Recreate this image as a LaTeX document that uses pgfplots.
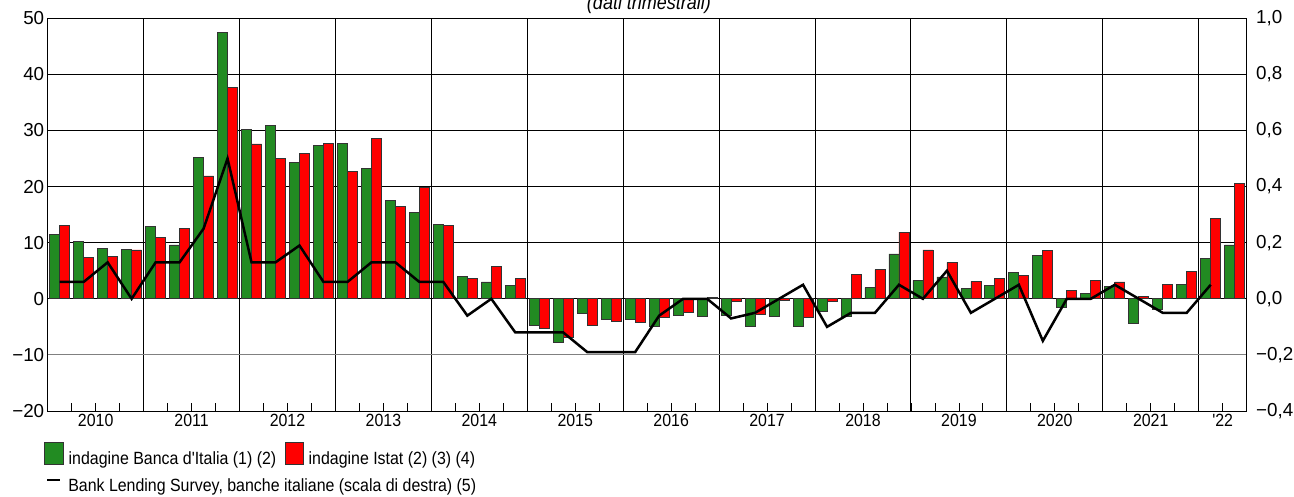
\documentclass[border=0pt]{standalone}
\usepackage{pgfplots}
\pgfplotsset{compat=1.18}
\usepackage{pgfplotstable}
\usepackage{fontspec}
\setmainfont{Liberation Sans}[FakeStretch=0.9, Ligatures=TeXOff]
\newfontfamily\widesans{Liberation Sans}[Ligatures=TeXOff]
\definecolor{bgreen}{RGB}{34,139,34}
\definecolor{bred}{RGB}{255,0,0}

\pgfplotstableread{
x G R L
0.5 11.5 13.0 0.06
1.5 10.3 7.4 0.06
2.5 9.0 7.5 0.13
3.5 8.8 8.7 0.00
4.5 12.9 10.9 0.13
5.5 9.6 12.5 0.13
6.5 25.2 21.9 0.25
7.5 47.5 37.7 0.50
8.5 30.2 27.6 0.13
9.5 30.9 25.0 0.13
10.5 24.3 25.9 0.19
11.5 27.4 27.7 0.06
12.5 27.7 22.7 0.06
13.5 23.2 28.6 0.13
14.5 17.6 16.4 0.13
15.5 15.4 19.8 0.06
16.5 13.2 13.0 0.06
17.5 4.0 3.6 -0.06
18.5 3.0 5.7 0.00
19.5 2.3 3.7 -0.12
20.5 -4.7 -5.2 -0.12
21.5 -7.8 -6.9 -0.12
22.5 -2.6 -4.8 -0.19
23.5 -3.6 -4.0 -0.19
24.5 -3.7 -4.2 -0.19
25.5 -5.0 -3.3 -0.06
26.5 -2.9 -2.4 0.00
27.5 -3.1 0.2 0.00
28.5 -3.0 -0.4 -0.07
29.5 -5.0 -2.7 -0.05
30.5 -3.1 -0.2 0.00
31.5 -4.9 -3.3 0.05
32.5 -2.2 -0.5 -0.10
33.5 -3.1 4.4 -0.05
34.5 2.0 5.2 -0.05
35.5 8.0 11.9 0.05
36.5 3.3 8.7 0.00
37.5 3.9 6.5 0.10
38.5 1.8 3.1 -0.05
39.5 2.4 3.6 0.00
40.5 4.75 4.2 0.05
41.5 7.8 8.6 -0.15
42.5 -1.5 1.5 0.00
43.5 1.0 3.3 0.00
44.5 2.2 3.0 0.05
45.5 -4.3 0.4 0.00
46.5 -1.8 2.6 -0.05
47.5 2.6 4.8 -0.05
48.5 7.2 14.25 0.05
49.5 9.6 20.6 nan
}\data

\begin{document}
\begin{tikzpicture}[x=1pt,y=1pt,font=\fontsize{17.7}{21}\selectfont]
\useasboundingbox (0,0) rectangle (1294,496);
\node[font=\fontsize{20}{24}\selectfont\itshape, anchor=base] at (649,486) {(dati trimestrali)};

\begin{axis}[
  at={(47.7pt,85pt)}, anchor=south west,
  scale only axis, width=1199pt, height=392.7pt,
  xmin=0, xmax=50, ymin=-20, ymax=50,
  ybar, bar width=10pt,
  axis line style={black, line width=1pt},
  ytick={-20,0,10,20,30,40,50},
  yticklabels={−20,0,10,20,30,40,50},
  extra y ticks={-10}, extra y tick labels={−10},
  extra y tick style={grid=major, major grid style={gray, line width=1pt}},
  ymajorgrids, major grid style={black, line width=1pt},
  ytick style={draw=none},
  yticklabel style={font=\widesans\fontsize{18.8}{22}\selectfont},
  xtick={2,6,10,14,18,22,26,30,34,38,42,46,49},
  xticklabels={2010,2011,2012,2013,2014,2015,2016,2017,2018,2019,2020,2021,'22},
  minor xtick={0,1,...,50},
  xtick pos=bottom, ytick pos=left, tick align=inside,
  major tick length=8pt, minor tick length=8pt,
  xtick style={black, line width=0.8pt},
  extra x ticks={4,8,12,16,20,24,28,32,36,40,44,48},
  extra x tick labels={},
  extra x tick style={grid=major, major grid style={black, line width=1pt}, major tick length=0pt},
  xticklabel style={font=\fontsize{17.7}{21}\selectfont},
  legend style={at={(axis description cs:-0.003,-0.112)}, anchor=west,
    draw=none, fill=none, inner sep=0pt, font=\fontsize{17.7}{21}\selectfont,
    /tikz/every even column/.append style={column sep=7pt}},
  legend columns=2, legend cell align=left,
]
\addplot[fill=bgreen, draw=black!80, line width=0.8pt, bar shift=-5pt,
  legend image code/.code={\draw[fill=bgreen, draw=black!80, line width=0.8pt] (0pt,-5pt) rectangle (19pt,17pt);
    \path[draw=none, fill=none] (0pt,0pt) -- (22pt,0pt);}]
  table[x=x,y=G]{\data};
\addlegendentry{indagine Banca d'Italia (1) (2)}
\addplot[fill=bred, draw=black!80, line width=0.8pt, bar shift=5pt,
  legend image code/.code={\draw[fill=bred, draw=black!80, line width=0.8pt] (0pt,-5pt) rectangle (18pt,17pt);
    \path[draw=none, fill=none] (0pt,0pt) -- (21pt,0pt);}]
  table[x=x,y=R]{\data};
\addlegendentry{indagine Istat (2) (3) (4)}
\end{axis}

\begin{axis}[
  at={(47.7pt,85pt)}, anchor=south west,
  scale only axis, width=1199pt, height=392.7pt,
  xmin=0, xmax=50, ymin=-0.4, ymax=1.0,
  axis x line=none, axis y line*=right,
  axis line style={black, line width=1pt},
  ytick={-0.4,-0.2,0,0.2,0.4,0.6,0.8,1.0},
  yticklabels={{−0,4},{−0,2},{0,0},{0,2},{0,4},{0,6},{0,8},{1,0}},
  ytick style={draw=none},
  yticklabel style={xshift=6pt, font=\widesans\fontsize{18.8}{22}\selectfont},
  legend style={at={(axis description cs:-0.003,-0.191)}, anchor=west,
    draw=none, fill=none, inner sep=0pt, font=\fontsize{17.7}{21}\selectfont},
  legend cell align=left,
]
\addplot[black, line width=2.5pt, mark=none,
  legend image code/.code={\draw[black, line width=2.5pt] (3pt,6pt) -- (16pt,6pt);
    \path[draw=none, fill=none] (0pt,0pt) -- (22pt,0pt);}]
  table[x=x,y=L]{\data};
\addlegendentry{Bank Lending Survey, banche italiane (scala di destra) (5)}
\end{axis}
\end{tikzpicture}
\end{document}
